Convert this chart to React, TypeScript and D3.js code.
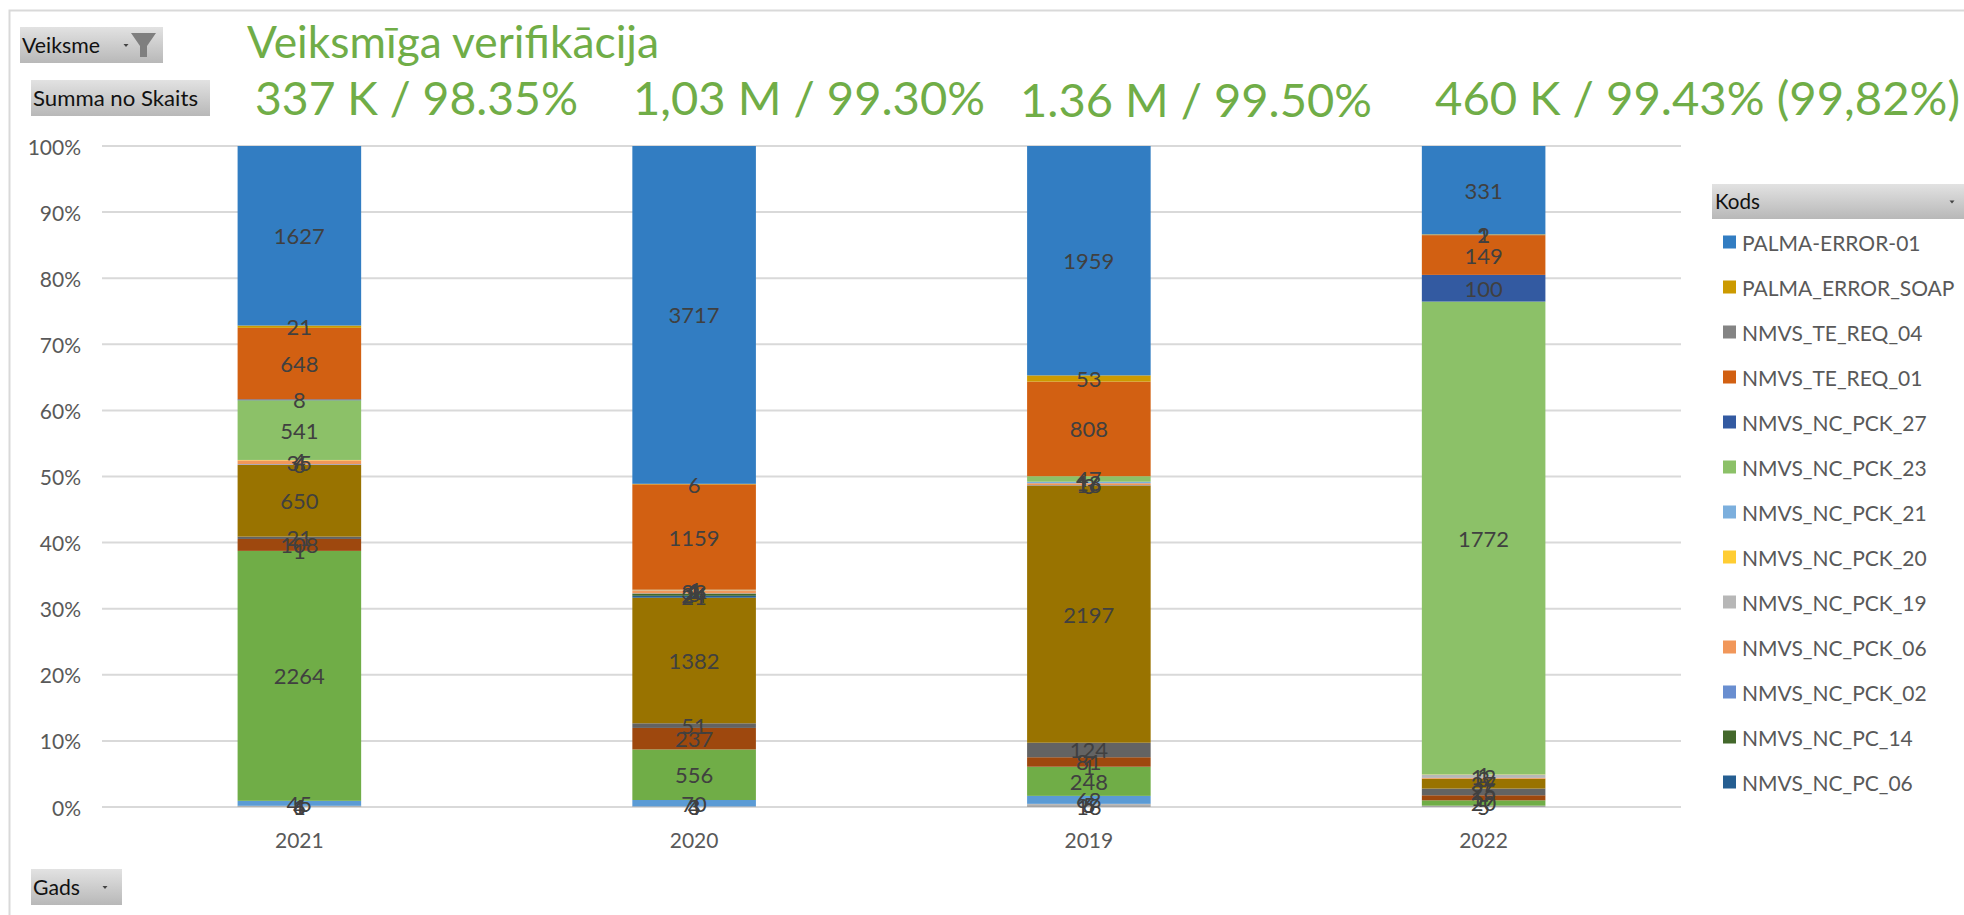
import React from "react";
import * as d3 from "d3";

const WIDTH = 1964;
const HEIGHT = 915;
const FONT = "Lato, 'Open Sans', sans-serif";

const YEARS = ["2021", "2020", "2019", "2022"];
const Y_TICKS = [0, 0.1, 0.2, 0.3, 0.4, 0.5, 0.6, 0.7, 0.8, 0.9, 1];

// Stack order, bottom to top. The first nine codes are cut off the legend in the reference.
const CODES = [
  "hidden_1", "hidden_2", "hidden_3", "hidden_4", "hidden_5", "hidden_6", "hidden_7", "hidden_8", "hidden_9",
  "NMVS_NC_PC_06", "NMVS_NC_PC_14", "NMVS_NC_PCK_02", "NMVS_NC_PCK_06", "NMVS_NC_PCK_19",
  "NMVS_NC_PCK_20", "NMVS_NC_PCK_21", "NMVS_NC_PCK_23", "NMVS_NC_PCK_27", "NMVS_TE_REQ_01",
  "NMVS_TE_REQ_04", "PALMA_ERROR_SOAP", "PALMA-ERROR-01",
];
const COLORS = [
  "#A5A5A5", "#A5A5A5", "#A5A5A5", "#5B9BD5", "#70AD47", "#4472C4", "#9E480E", "#636363", "#997300",
  "#255E91", "#43682B", "#698ED0", "#F1975A", "#B7B7B7",
  "#FFCD33", "#7CAFDD", "#8CC168", "#335AA1", "#D26012",
  "#848484", "#CC9A00", "#327DC2",
];
// Values per code, in YEARS order
const VALUES = [
  [1, 0, 16, 5],
  [6, 3, 5, 0],
  [4, 4, 6, 0],
  [45, 70, 68, 0],
  [2264, 556, 248, 20],
  [1, 0, 1, 0],
  [108, 237, 81, 19],
  [21, 51, 124, 25],
  [650, 1382, 2197, 37],
  [0, 21, 0, 0],
  [0, 24, 0, 0],
  [6, 3, 3, 0],
  [35, 33, 16, 3],
  [0, 1, 0, 12],
  [4, 1, 0, 1],
  [0, 1, 13, 0],
  [541, 4, 47, 1772],
  [8, 0, 0, 100],
  [648, 1159, 808, 149],
  [0, 0, 0, 1],
  [21, 6, 53, 2],
  [1627, 3717, 1959, 331],
];
const LEGEND_COUNT = 13;

const TITLE = "Veiksmīga verifikācija";
const SUBTITLES = ["337 K / 98.35%", "1,03 M / 99.30%", "1.36 M / 99.50%", "460 K / 99.43% (99,82%)"];

function Button({ x, y, width, height, label, textX, baseline, textWidth, arrowX }: any) {
  return (
    <g>
      <rect x={x} y={y} width={width} height={height} fill="url(#btn)" />
      <text x={textX} y={baseline} fontSize={21} fill="#111" textLength={textWidth} lengthAdjust="spacingAndGlyphs">
        {label}
      </text>
      {arrowX != null && <path d={`M${arrowX - 2.5},${y + height / 2 - 1}h5l-2.5,3z`} fill="#444" />}
    </g>
  );
}

export default function App() {
  const margin = { top: 146, bottom: 108, left: 102, right: 283 };

  const rows = YEARS.map((year, i) => {
    const row: Record<string, any> = { year };
    CODES.forEach((c, j) => (row[c] = VALUES[j][i]));
    return row;
  });
  const series = d3.stack<any>().keys(CODES).offset(d3.stackOffsetExpand)(rows);

  const x = d3.scaleBand<string>()
    .domain(YEARS)
    .range([margin.left, WIDTH - margin.right])
    .paddingInner(0.687)
    .paddingOuter(0.3435);
  const y = d3.scaleLinear().domain([0, 1]).range([HEIGHT - margin.bottom, margin.top]);
  const pct = d3.format(".0%");

  const legend = CODES.slice(-LEGEND_COUNT).reverse();
  const legendColors = COLORS.slice(-LEGEND_COUNT).reverse();
  const legendY = d3.scalePoint<string>().domain(legend).range([242, 782]);

  const subX = [255, 633, 1020, 1435];
  const subW = [323, 352, 352, 525];
  const subBase = [115, 115, 117, 115];

  return (
    <svg width={WIDTH} height={HEIGHT} style={{ position: "absolute", left: 0, top: 0, background: "#fff" }} fontFamily={FONT}>
      <defs>
        <linearGradient id="btn" x1="0" x2="0" y1="0" y2="1">
          <stop offset="0" stopColor="#e2e2e2" />
          <stop offset="1" stopColor="#b8b8b8" />
        </linearGradient>
      </defs>

      {/* Frame */}
      <path d={`M9.5,${HEIGHT}V10.5H${WIDTH}`} fill="none" stroke="#d9d9d9" strokeWidth={2} />

      {/* Titles */}
      <text x={247} y={58} fontSize={44} fill="#70AD47" textLength={412} lengthAdjust="spacingAndGlyphs">{TITLE}</text>
      {SUBTITLES.map((s, i) => (
        <text key={s} x={subX[i]} y={subBase[i]} fontSize={46} fill="#70AD47" textLength={subW[i]} lengthAdjust="spacingAndGlyphs">{s}</text>
      ))}

      {/* Field buttons */}
      <Button x={20} y={27} width={143} height={36} label="Veiksme" textX={22} baseline={53} textWidth={78} arrowX={126} />
      <path d="M131,33H156L147,46V57H140V46Z" fill="#7f7f7f" />
      <Button x={31} y={80} width={179} height={36} label="Summa no Skaits" textX={33} baseline={106} textWidth={165} />
      <Button x={31} y={869} width={91} height={36} label="Gads" textX={33} baseline={895} textWidth={47} arrowX={105} />
      <Button x={1712} y={184} width={252} height={35} label="Kods" textX={1715} baseline={209} textWidth={45} arrowX={1952} />

      {/* Grid and y axis */}
      {Y_TICKS.map((t) => (
        <g key={t}>
          <line x1={margin.left} x2={WIDTH - margin.right} y1={y(t)} y2={y(t)} stroke="#d9d9d9" strokeWidth={2} />
          <text x={81} y={y(t)} fontSize={21} fill="#595959" textAnchor="end" dominantBaseline="central">{pct(t)}</text>
        </g>
      ))}

      {/* Bars */}
      {series.map((s, i) => (
        <g key={s.key} fill={COLORS[i]}>
          {s.map((d: any) => (
            <rect key={d.data.year} x={x(d.data.year)} y={y(d[1])} width={x.bandwidth()} height={Math.max(y(d[0]) - y(d[1]), 0)} />
          ))}
        </g>
      ))}

      {/* Data labels */}
      {series.map((s) =>
        s.map((d: any) => {
          const v = d.data[s.key];
          if (!v) return null;
          return (
            <text
              key={`${s.key}-${d.data.year}`}
              x={(x(d.data.year) || 0) + x.bandwidth() / 2}
              y={y((d[0] + d[1]) / 2)}
              fontSize={22}
              fill="#404040"
              textAnchor="middle"
              dominantBaseline="central"
            >
              {v}
            </text>
          );
        })
      )}

      {/* X axis */}
      {YEARS.map((yr) => (
        <text key={yr} x={(x(yr) || 0) + x.bandwidth() / 2} y={839} fontSize={21} fill="#595959" textAnchor="middle" dominantBaseline="central">{yr}</text>
      ))}

      {/* Legend */}
      {legend.map((c, i) => (
        <g key={c} transform={`translate(0,${legendY(c)})`}>
          <rect x={1723} y={-6.5} width={13} height={13} fill={legendColors[i]} />
          <text x={1742} y={0} fontSize={21} fill="#595959" dominantBaseline="central">{c}</text>
        </g>
      ))}
    </svg>
  );
}
